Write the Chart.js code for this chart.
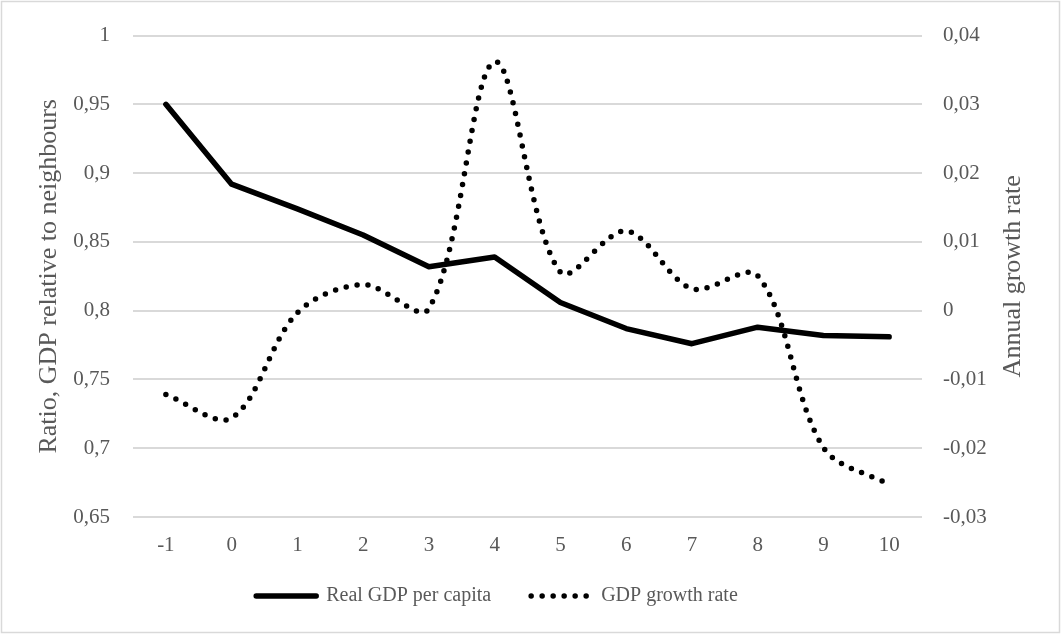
<!DOCTYPE html>
<html>
<head>
<meta charset="utf-8">
<script src="https://cdn.jsdelivr.net/npm/chart.js@4.4.0/dist/chart.umd.min.js"></script>
<style>
  html, body { margin: 0; padding: 0; background: #ffffff; }
  canvas { display: block; }
</style>
</head>
<body>
<canvas id="chart" width="1061" height="634"></canvas>
<script>
// Years relative to the event
const years = ['-1', '0', '1', '2', '3', '4', '5', '6', '7', '8', '9', '10'];

// Real GDP per capita, ratio to neighbouring countries (left axis)
const realGdpRatio = [0.950, 0.892, 0.874, 0.855, 0.832, 0.839, 0.806, 0.787, 0.776, 0.788, 0.782, 0.781];

// Annual GDP growth rate (right axis)
const growthRate = [-0.0122, -0.0156, -0.0003, 0.0038, 0.0003, 0.0362, 0.0056, 0.0116, 0.0032, 0.0051, -0.0199, -0.0253];

// Axis ranges: [min, max, step]
const ratioAxis = [0.65, 1, 0.05];
const growthAxis = [-0.03, 0.04, 0.01];

const leftTitle = 'Ratio, GDP relative to neighbours';
const rightTitleText = 'Annual growth rate';

const FONT = "'Liberation Serif', 'Times New Roman', serif";
const TEXT = '#595959';
const GRID = '#d9d9d9';

// Decimal comma formatting
const fmt = v => String(Math.round(v * 100) / 100).replace('.', ',');

// White background and light frame around the whole chart
const framePlugin = {
  id: 'frame',
  beforeDraw(chart) {
    const c = chart.ctx;
    c.save();
    c.fillStyle = '#ffffff';
    c.fillRect(0, 0, chart.width, chart.height);
    c.strokeStyle = GRID;
    c.lineWidth = 1.5;
    c.strokeRect(1.5, 1.5, chart.width - 3, chart.height - 3);
    c.restore();
  }
};

// Pull the legend row up closer to the category labels
const legendLift = {
  id: 'legendLift',
  afterLayout(chart) {
    const lg = chart.legend;
    if (lg) { lg.top -= 16; lg.bottom -= 16; }
  }
};

// Right axis title, reading bottom to top
const rightTitlePlugin = {
  id: 'rightTitle',
  afterDraw(chart) {
    const a = chart.chartArea;
    const c = chart.ctx;
    c.save();
    c.translate(a.right + 91, (a.top + a.bottom) / 2);
    c.rotate(-Math.PI / 2);
    c.font = '26px ' + FONT;
    c.fillStyle = TEXT;
    c.textAlign = 'center';
    c.textBaseline = 'middle';
    c.fillText(rightTitleText, 0, 0);
    c.restore();
  }
};

new Chart(document.getElementById('chart'), {
  type: 'line',
  data: {
    labels: years,
    datasets: [
      {
        label: 'Real GDP per capita',
        data: realGdpRatio,
        yAxisID: 'y',
        borderColor: '#000000',
        backgroundColor: '#000000',
        borderWidth: 5.5,
        borderCapStyle: 'round',
        borderJoinStyle: 'round',
        pointRadius: 0,
        tension: 0
      },
      {
        label: 'GDP growth rate',
        data: growthRate,
        yAxisID: 'y1',
        borderColor: '#000000',
        backgroundColor: '#000000',
        borderWidth: 5.5,
        borderDash: [0, 11],
        borderCapStyle: 'round',
        borderJoinStyle: 'round',
        pointRadius: 0,
        tension: 0.33
      }
    ]
  },
  options: {
    responsive: false,
    animation: false,
    devicePixelRatio: 1,
    layout: { padding: { top: 31, right: 67, bottom: 2, left: 0 } },
    plugins: {
      tooltip: { enabled: false },
      legend: {
        position: 'bottom',
        labels: {
          usePointStyle: true,
          pointStyle: 'line',
          pointStyleWidth: 60,
          padding: 40,
          color: TEXT,
          font: { family: FONT, size: 20 },
          generateLabels: chart => chart.data.datasets.map((ds, i) => ({
            text: ds.label,
            datasetIndex: i,
            strokeStyle: ds.borderColor,
            fillStyle: ds.borderColor,
            lineWidth: ds.borderWidth,
            lineDash: ds.borderDash || [],
            lineCap: 'round',
            pointStyle: 'line',
            fontColor: TEXT,
            hidden: false
          }))
        }
      }
    },
    scales: {
      x: {
        offset: true,
        grid: { display: false, drawTicks: false },
        border: { display: false },
        ticks: { color: TEXT, font: { family: FONT, size: 21 }, padding: 16, maxRotation: 0, autoSkip: false },
        afterFit: s => { s.height = 45; }
      },
      y: {
        position: 'left',
        min: ratioAxis[0],
        max: ratioAxis[1],
        ticks: { stepSize: ratioAxis[2], callback: fmt, padding: 23, color: TEXT, font: { family: FONT, size: 21 } },
        grid: { color: GRID, lineWidth: 2, drawTicks: false },
        border: { display: false },
        title: { display: true, text: leftTitle, color: TEXT, font: { family: FONT, size: 26 }, padding: { top: 34, bottom: 0 } },
        afterFit: s => { s.width = 133; }
      },
      y1: {
        position: 'right',
        min: growthAxis[0],
        max: growthAxis[1],
        ticks: { stepSize: growthAxis[2], callback: fmt, padding: 21, color: TEXT, font: { family: FONT, size: 21 } },
        grid: { display: false, drawTicks: false },
        border: { display: false },
        afterFit: s => { s.width = 72; }
      }
    }
  },
  plugins: [framePlugin, legendLift, rightTitlePlugin]
});
</script>
</body>
</html>
